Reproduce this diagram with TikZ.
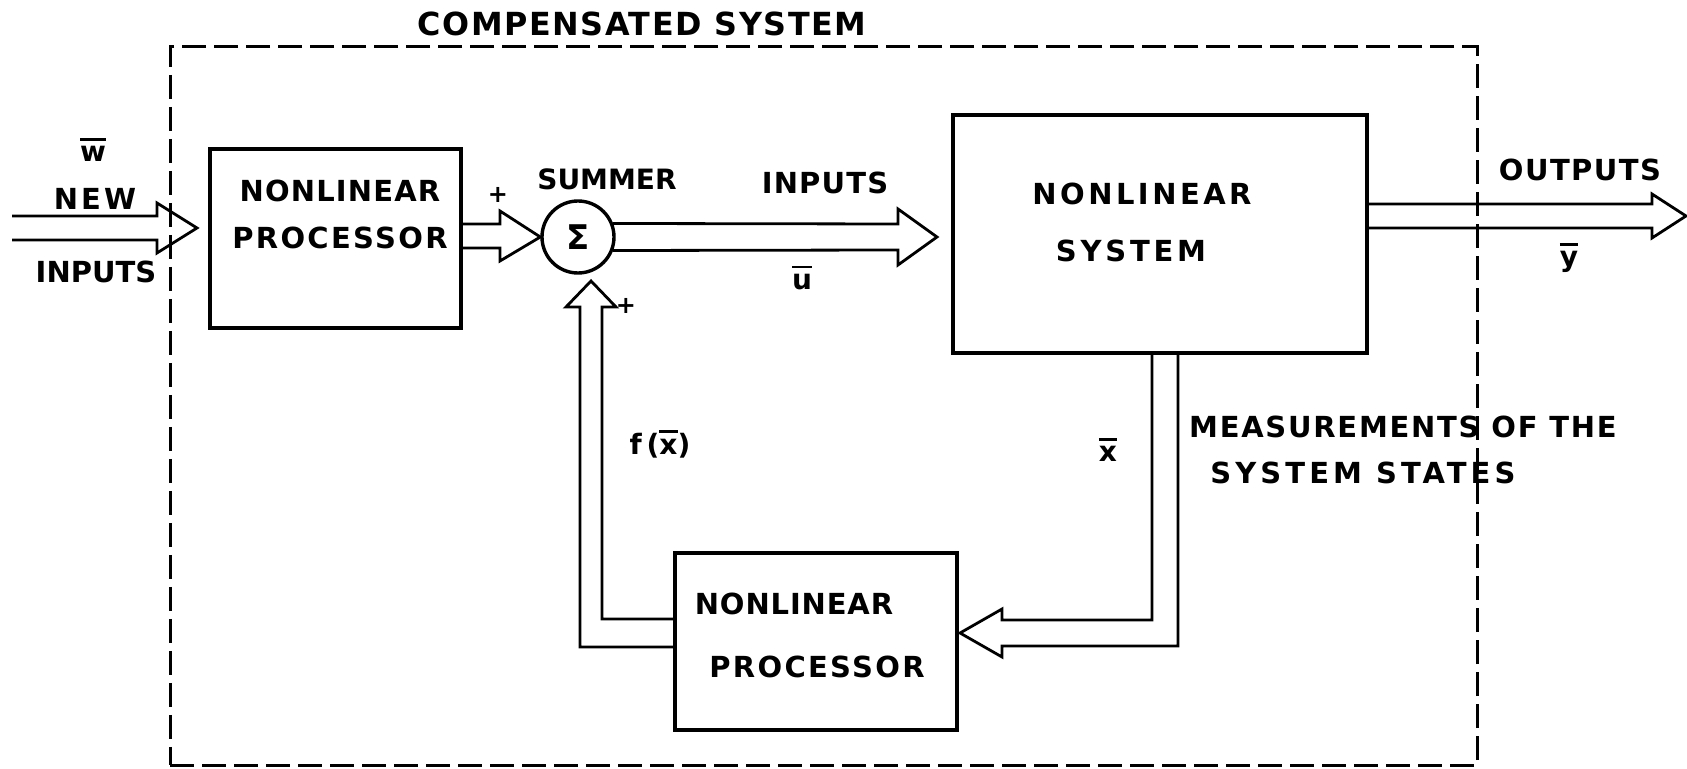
\documentclass[tikz,border=0pt]{standalone}
\usepackage{fontspec}
\newfontfamily\lab{DejaVu Sans}
\usetikzlibrary{fit,calc}
\newcommand\ls[1]{\addfontfeature{LetterSpace=#1}}
\newcommand\ovl[1]{\setbox0\hbox{#1}\vbox{\hrule height 1.3pt width \wd0 \kern 3pt \box0}}
\tikzset{
  lab/.style={font=\lab\bfseries\fontsize{#1}{#1}\selectfont, inner sep=0pt},
  lab/.default=14.5,
  box/.style={draw, line width=1.7pt, inner sep=0pt},
  ar/.style={draw, line width=1.4pt, line join=miter},
  dashbox/.style={draw, line width=1.5pt, dash pattern=on 12pt off 4pt, inner sep=0pt},
}
\begin{document}
\begin{tikzpicture}[x=0.5pt,y=-0.5pt]
\fill[white] (0,0) rectangle (1687,769);
\useasboundingbox (0,0) rectangle (1687,769);

% compensated system frame
\node[dashbox, fit={(170,47)(1477,765)}] (cs) {};
\node[lab=15.9] (title) at (642,24) {\ls{5}COMPENSATED SYSTEM};

% blocks
\node[box, fit={(210,149)(461,328)}] (np1) {};
\node[box, circle, minimum size=36pt] (sum) at (578,237) {};
\node[box, fit={(953,115)(1367,353)}] (ns) {};
\node[box, fit={(675,553)(957,730)}] (np2) {};

% texts
\node[lab] (np1a) at (340,191) {\ls{4}NONLINEAR};
\node[lab] (np1b) at (340,238) {\ls{8}PROCESSOR};
\node[lab] (nsa) at (1142,194) {\ls{12}NONLINEAR};
\node[lab] (nsb) at (1131,251) {\ls{13}SYSTEM};
\node[lab] (np2a) at (794,604) {\ls{3}NONLINEAR};
\node[lab] (np2b) at (817,667) {\ls{8}PROCESSOR};
\node[lab=14] (sumt) at (607,179) {SUMMER};
\node[lab=17] (sig) at (sum) {Σ};
\node[lab] (inp) at (825,183) {\ls{4}INPUTS};
\node[lab=14] (ub) at (802,278) {\ovl{u}};
\node[lab=14] (wb) at (93,150) {\ovl{w}};
\node[lab] (new) at (95,199) {\ls{11}NEW};
\node[lab] (inl) at (96,272) {INPUTS};
\node[lab=12] (p1) at (498,195) {+};
\node[lab=12] (p2) at (626,306) {+};
\node[lab=14] (fx) at (660,444) {\ls{17}f(\ovl{x})};
\node[lab=14] (xb) at (1108,450) {\ovl{x}};
\node[lab] (meas1) at (1403,427) {\ls{6}MEASUREMENTS OF THE};
\node[lab] (meas2) at (1363,473) {\ls{14}SYSTEM STATES};
\node[lab] (outl) at (1580,170) {\ls{5}OUTPUTS};
\node[lab=14] (yb) at (1569,258) {\ovl{y}};

% free ends / tips
\coordinate (inw) at (12,228);
\coordinate (intip) at (197,228);
\coordinate (nstip) at (937,237);
\coordinate (outtip) at (1686,216);
\coordinate (fbtip) at (591,281);
\coordinate (mtip) at (960,633);

% new inputs -> processor
\draw[ar] (inw |- 0,216) -- (157,216) -- (157,203) -- (intip) -- (157,253) -- (157,240) -- (inw |- 0,240);
% processor -> summer
\draw[ar] (np1.east |- 0,224) -- (500,224) -- (500,211) -- (sum.west) -- (500,261) -- (500,248) -- (np1.east |- 0,248);
% summer -> nonlinear system
\draw[ar] (sum.21) -- (898,224) -- (898,209) -- (nstip) -- (898,265) -- (898,250) -- (sum.-21);
% outputs
\draw[ar] (ns.east |- 0,204) -- (1652,204) -- (1652,194) -- (outtip) -- (1652,238) -- (1652,228) -- (ns.east |- 0,228);
% measurements -> lower processor
\draw[ar] (1152,0 |- ns.south) -- (1152,620) -- (1002,620) -- (1002,609) -- (mtip) -- (1002,657) -- (1002,646) -- (1178,646) -- (1178,0 |- ns.south);
% feedback -> summer
\draw[ar] (np2.west |- 0,647) -- (580,647) -- (580,307) -- (566,307) -- (fbtip) -- (616,307) -- (602,307) -- (602,619) -- (np2.west |- 0,619);
\end{tikzpicture}
\end{document}
